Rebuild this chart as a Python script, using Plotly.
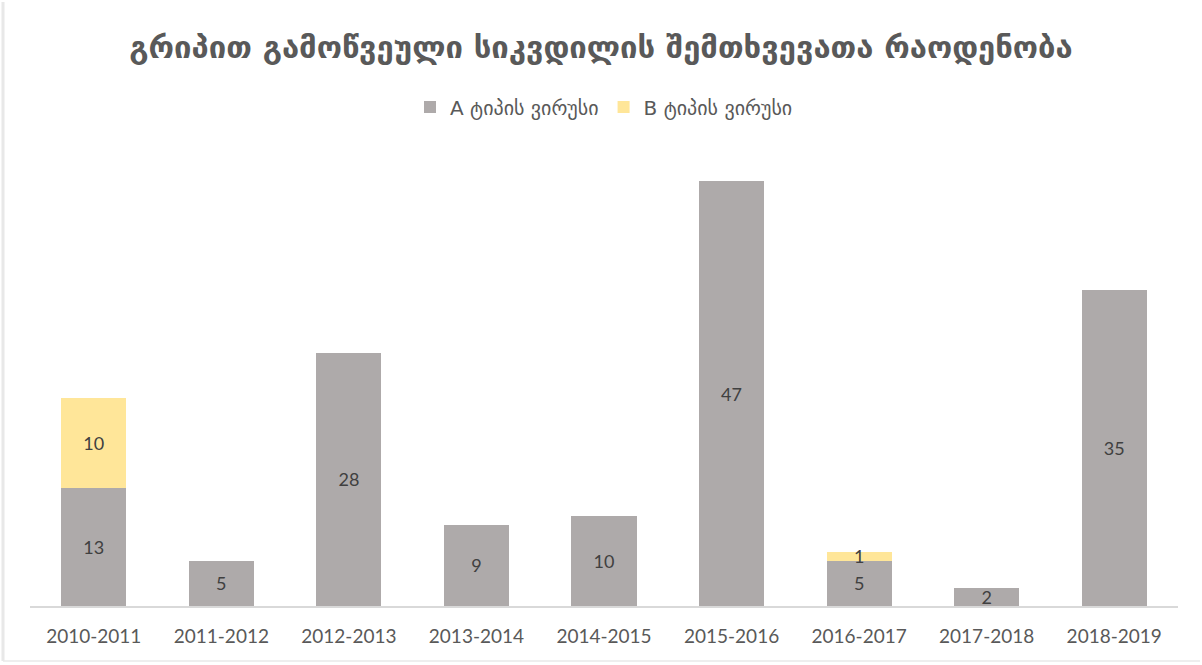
import plotly.graph_objects as go

# Flu deaths by season, split by virus type
seasons = ["2010-2011", "2011-2012", "2012-2013", "2013-2014", "2014-2015",
           "2015-2016", "2016-2017", "2017-2018", "2018-2019"]
type_a = [13, 5, 28, 9, 10, 47, 5, 2, 35]
type_b = [10, 0, 0, 0, 0, 0, 1, 0, 0]

name_a = "A ტიპის ვირუსი"
name_b = "B ტიპის ვირუსი"
title_text = "<b>გრიპით გამოწვეული სიკვდილის შემთხვევათა რაოდენობა</b>"

W, H = 1202, 665
L, R, T, B = 30, 24, 154, 59
label_font = dict(family="Lato, 'DejaVu Sans', sans-serif", size=18, color="#404040")

fig = go.Figure()
fig.add_trace(go.Bar(
    x=seasons, y=type_a, name=name_a,
    marker=dict(color="#aeaaaa", line=dict(width=0)),
    text=[str(v) if v else "" for v in type_a],
    textposition="inside", insidetextanchor="middle", textangle=0,
    constraintext="none", textfont=label_font,
    hoverinfo="x+y+name",
))
fig.add_trace(go.Bar(
    x=seasons, y=type_b, name=name_b,
    marker=dict(color="#ffe699", line=dict(width=0)),
    text=[str(v) if v else "" for v in type_b],
    textposition="inside", insidetextanchor="middle", textangle=0,
    constraintext="none", textfont=label_font,
    hoverinfo="x+y+name",
))

pw = W - L - R
ph = H - T - B

fig.update_layout(
    width=W, height=H,
    margin=dict(l=L, r=R, t=T, b=B, pad=0),
    barmode="stack", bargap=0.49,
    paper_bgcolor="white", plot_bgcolor="white",
    title=dict(text=title_text, x=0.5, xanchor="center", y=1 - 47 / H, yanchor="middle",
               font=dict(family="'DejaVu Sans', sans-serif", size=31, color="#595959")),
    legend=dict(orientation="h", x=0.5, xanchor="center", y=1 + (T - 107) / ph, yanchor="middle",
                font=dict(family="'DejaVu Sans', Lato, sans-serif", size=20, color="#595959"),
                itemwidth=30, tracegroupgap=0, traceorder="normal"),
    xaxis=dict(showgrid=False, showline=True, linecolor="#d9d9d9", linewidth=1.5,
               ticks="", tickfont=dict(family="Lato, sans-serif", size=19, color="#595959"),
               ticklabelstandoff=12),
    yaxis=dict(range=[0, 50], visible=False, showgrid=False, zeroline=False),
    showlegend=True,
)

# Light frame lines on the left and bottom edges of the chart
fig.add_shape(type="line", xref="paper", yref="paper",
              x0=(3 - L) / pw, x1=(3 - L) / pw, y0=(H - B - 661) / ph, y1=(H - B - 2) / ph,
              line=dict(color="#e8e8e8", width=3))
fig.add_shape(type="line", xref="paper", yref="paper",
              x0=(3 - L) / pw, x1=(1200 - L) / pw, y0=(H - B - 661) / ph, y1=(H - B - 661) / ph,
              line=dict(color="#e8e8e8", width=1.5))

fig.write_html("out.html")
